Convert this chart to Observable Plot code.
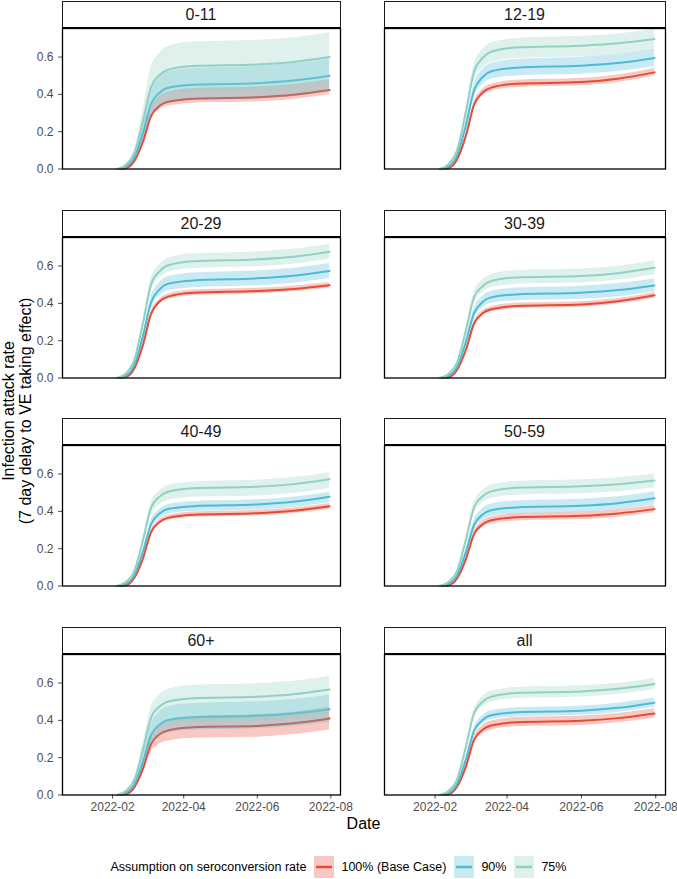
<!DOCTYPE html>
<html><head><meta charset="utf-8">
<script src="https://cdn.jsdelivr.net/npm/d3@7"></script>
<script src="https://cdn.jsdelivr.net/npm/@observablehq/plot@0.6"></script>
<style>
body{margin:0;background:#fff;font-family:"Liberation Sans",Arial,Helvetica,sans-serif;}
#root{position:relative;width:677px;height:879px;overflow:hidden;background:#fff;}
.strip{position:absolute;box-sizing:border-box;border:1px solid #1a1a1a;border-bottom:2px solid #000;text-align:center;font-size:16px;line-height:25px;color:#1a1a1a;background:#fff;}
.panel{position:absolute;}
.ytitle{position:absolute;width:420px;height:34px;left:-193px;top:394px;transform:rotate(-90deg);text-align:center;font-size:16px;line-height:17px;color:#000;}
.xtitle{position:absolute;left:0;width:727px;top:815px;text-align:center;font-size:16px;line-height:18px;color:#000;}
.legend{position:absolute;left:0;width:677px;top:856px;height:22px;display:flex;justify-content:center;align-items:center;font-size:12.5px;color:#000;}
.legend span{white-space:nowrap;}
</style></head><body><div id="root"></div>
<script>
// ---- data ----
const groups = ["0-11","12-19","20-29","30-39","40-49","50-59","60+","all"];
const scenarios = ["100% (Base Case)","90%","75%"];
const colors = ["#E64B35","#4DBBD5","#91D1C2"];
const dates = ["2022-02-05","2022-02-12","2022-02-19","2022-02-26","2022-03-05","2022-03-12","2022-03-19","2022-04-09","2022-06-01","2022-07-01","2022-07-31"];
const xTicks = ["2022-02-01","2022-04-01","2022-06-01","2022-08-01"];
const yTicks = [0,0.2,0.4,0.6];
const xDomain = ["2021-12-21T12:00:00Z","2022-08-09T00:00:00Z"];
const yDomain = [0,0.753];

// 100% (Base Case)
const base_mid = [
 [0,.004,.042,.142,.285,.339,.360,.377,.385,.398,.423],
 [0,.005,.051,.172,.345,.410,.436,.457,.466,.484,.518],
 [0,.005,.051,.172,.345,.410,.436,.457,.466,.477,.497],
 [0,.004,.043,.146,.292,.347,.368,.386,.394,.411,.443],
 [0,.004,.043,.144,.289,.343,.365,.382,.390,.403,.427],
 [0,.004,.041,.139,.278,.331,.352,.368,.376,.389,.412],
 [0,.004,.041,.137,.274,.326,.346,.363,.370,.384,.410],
 [0,.004,.044,.147,.295,.350,.372,.390,.398,.412,.437]];
const base_lo = [
 [0,.004,.040,.133,.266,.317,.337,.353,.360,.373,.398],
 [0,.004,.049,.165,.330,.392,.417,.437,.446,.464,.498],
 [0,.005,.050,.167,.334,.397,.422,.442,.451,.462,.482],
 [0,.004,.042,.140,.280,.334,.354,.371,.379,.396,.428],
 [0,.004,.041,.139,.278,.330,.351,.368,.375,.388,.412],
 [0,.004,.039,.132,.263,.313,.333,.349,.356,.369,.392],
 [0,.003,.034,.115,.229,.273,.290,.304,.310,.324,.350],
 [0,.004,.041,.138,.276,.328,.349,.366,.373,.387,.412]];
const base_hi = [
 [0,.004,.048,.163,.326,.387,.411,.431,.440,.453,.478],
 [0,.005,.053,.180,.360,.428,.454,.476,.486,.504,.538],
 [0,.005,.053,.178,.356,.423,.450,.471,.481,.492,.512],
 [0,.004,.045,.151,.303,.360,.382,.401,.409,.426,.458],
 [0,.004,.045,.150,.300,.356,.379,.397,.405,.418,.442],
 [0,.004,.044,.147,.293,.348,.370,.388,.396,.409,.432],
 [0,.004,.047,.159,.318,.378,.402,.421,.430,.444,.470],
 [0,.004,.047,.157,.313,.372,.396,.415,.423,.437,.462]];
// 90%
const s90_mid = [
 [0,.012,.060,.189,.350,.409,.435,.451,.460,.474,.500],
 [0,.014,.072,.227,.421,.493,.524,.543,.554,.568,.595],
 [0,.013,.069,.219,.406,.475,.505,.523,.534,.548,.573],
 [0,.011,.059,.187,.347,.407,.432,.448,.457,.471,.496],
 [0,.011,.057,.179,.332,.389,.413,.428,.437,.451,.478],
 [0,.011,.056,.176,.327,.383,.406,.421,.430,.444,.470],
 [0,.011,.055,.174,.323,.378,.402,.417,.425,.437,.460],
 [0,.011,.059,.185,.344,.402,.427,.443,.452,.467,.495]];
const s90_lo = [
 [0,.009,.049,.154,.285,.334,.354,.368,.375,.389,.415],
 [0,.013,.066,.209,.387,.453,.481,.499,.509,.523,.550],
 [0,.012,.064,.203,.375,.440,.467,.484,.494,.508,.533],
 [0,.011,.055,.173,.321,.376,.399,.414,.422,.436,.461],
 [0,.010,.053,.167,.309,.362,.385,.399,.407,.421,.448],
 [0,.010,.051,.162,.300,.352,.373,.387,.395,.409,.435],
 [0,.009,.046,.146,.270,.316,.335,.348,.355,.367,.390],
 [0,.011,.056,.175,.325,.380,.404,.418,.427,.442,.470]];
const s90_hi = [
 [0,.014,.072,.226,.418,.490,.520,.539,.550,.564,.590],
 [0,.015,.078,.246,.455,.533,.566,.587,.599,.613,.640],
 [0,.014,.075,.235,.436,.511,.542,.563,.574,.588,.613],
 [0,.012,.064,.202,.374,.438,.465,.482,.492,.506,.531],
 [0,.012,.060,.189,.351,.411,.437,.453,.462,.476,.503],
 [0,.012,.060,.191,.353,.414,.439,.456,.465,.479,.505],
 [0,.013,.065,.205,.380,.445,.473,.490,.500,.512,.535],
 [0,.012,.062,.196,.363,.425,.451,.467,.477,.492,.520]];
// 75%
const s75_mid = [
 [0,.022,.084,.252,.442,.504,.532,.552,.560,.574,.600],
 [0,.026,.099,.297,.522,.595,.628,.651,.661,.674,.697],
 [0,.025,.095,.286,.502,.572,.604,.626,.636,.650,.677],
 [0,.022,.082,.246,.432,.492,.520,.539,.547,.562,.591],
 [0,.021,.080,.239,.420,.479,.505,.524,.532,.546,.572],
 [0,.021,.080,.240,.422,.481,.507,.526,.534,.545,.565],
 [0,.021,.079,.237,.416,.474,.501,.519,.527,.540,.565],
 [0,.022,.083,.250,.438,.500,.527,.547,.555,.569,.595]];
const s75_lo = [
 [0,.017,.063,.189,.332,.378,.399,.414,.420,.434,.460],
 [0,.024,.090,.270,.475,.541,.571,.592,.601,.614,.637],
 [0,.024,.089,.268,.471,.536,.566,.587,.596,.610,.637],
 [0,.020,.077,.230,.403,.459,.485,.502,.510,.525,.554],
 [0,.019,.072,.217,.381,.434,.458,.475,.482,.496,.522],
 [0,.020,.074,.222,.390,.445,.469,.487,.494,.505,.525],
 [0,.016,.060,.179,.314,.357,.377,.391,.397,.410,.435],
 [0,.021,.079,.236,.415,.473,.499,.517,.525,.539,.565]];
const s75_hi = [
 [0,.028,.104,.311,.545,.621,.656,.680,.690,.704,.730],
 [0,.028,.107,.320,.562,.640,.675,.700,.711,.724,.747],
 [0,.027,.101,.304,.534,.608,.642,.666,.676,.690,.717],
 [0,.023,.088,.263,.461,.526,.555,.575,.584,.599,.628],
 [0,.023,.085,.255,.448,.510,.539,.558,.567,.581,.607],
 [0,.023,.085,.256,.450,.512,.541,.560,.569,.580,.600],
 [0,.024,.090,.269,.472,.537,.567,.588,.597,.610,.635],
 [0,.023,.088,.263,.462,.527,.556,.576,.585,.599,.625]];

const MID = [base_mid, s90_mid, s75_mid];
const LO = [base_lo, s90_lo, s75_lo];
const HI = [base_hi, s90_hi, s75_hi];

// ---- layout ----
const root = document.getElementById("root");
const rowTop = [28, 236.7, 445.3, 654];
const plotH = 140.5;
const FONT = '"Liberation Sans", Arial, Helvetica, sans-serif';

groups.forEach((g, gi) => {
  const col = gi % 2, row = Math.floor(gi / 2);
  const left = col === 0, bottom = row === 3;
  const marks = [];
  scenarios.forEach((s, si) => {
    const rows = dates.map((d, i) => ({date: new Date(d), lo: LO[si][gi][i], mid: MID[si][gi][i], hi: HI[si][gi][i]}));
    marks.push(Plot.areaY(rows, {x: "date", y1: "lo", y2: "hi", fill: colors[si], fillOpacity: 0.3, curve: "monotone-x"}));
    marks.push(Plot.line(rows, {x: "date", y: "mid", stroke: colors[si], strokeWidth: 2, curve: "monotone-x"}));
  });
  marks.push(Plot.frame({stroke: "#000", strokeWidth: 1.3}));
  const width = left ? 341 : 337;
  const svg = Plot.plot({
    width,
    height: plotH + (bottom ? 30 : 0),
    marginLeft: left ? 62 : 44,
    marginRight: left ? 1 : 12,
    marginTop: 0,
    marginBottom: bottom ? 30 : 0,
    x: {type: "utc", domain: xDomain.map(d => new Date(d)), axis: bottom ? "bottom" : null,
        ticks: xTicks.map(d => new Date(d)), tickFormat: d3.utcFormat("%Y-%m"), tickSize: 4, tickPadding: 3.5, label: null},
    y: {domain: yDomain, axis: left ? "left" : null, ticks: yTicks, tickFormat: d3.format(".1f"),
        tickSize: 4, tickPadding: 5, label: null},
    style: {overflow: "visible", background: "transparent", fontFamily: FONT, fontSize: "12px", color: "#4d4d4d", maxWidth: "none"},
    marks
  });
  const wrap = document.createElement("div");
  wrap.className = "panel";
  wrap.style.left = (left ? 0 : 340) + "px";
  wrap.style.top = rowTop[row] + "px";
  wrap.appendChild(svg);
  root.appendChild(wrap);

  const strip = document.createElement("div");
  strip.className = "strip";
  strip.style.left = (left ? 61.5 : 383.5) + "px";
  strip.style.width = (left ? 279 : 282) + "px";
  strip.style.top = (rowTop[row] - 27) + "px";
  strip.style.height = "28px";
  strip.textContent = g;
  root.appendChild(strip);
});

// axis titles
const yt = document.createElement("div");
yt.className = "ytitle";
yt.innerHTML = "Infection attack rate<br>(7 day delay to VE taking effect)";
root.appendChild(yt);
const xt = document.createElement("div");
xt.className = "xtitle";
xt.textContent = "Date";
root.appendChild(xt);

// legend
const lg = document.createElement("div");
lg.className = "legend";
const title = document.createElement("span");
title.textContent = "Assumption on seroconversion rate";
title.style.marginRight = "8px";
lg.appendChild(title);
scenarios.forEach((s, si) => {
  const ns = "http://www.w3.org/2000/svg";
  const k = document.createElementNS(ns, "svg");
  k.setAttribute("width", 20); k.setAttribute("height", 22);
  k.style.display = "block";
  const r = document.createElementNS(ns, "rect");
  r.setAttribute("width", 20); r.setAttribute("height", 22);
  r.setAttribute("fill", colors[si]); r.setAttribute("fill-opacity", 0.3);
  k.appendChild(r);
  const l = document.createElementNS(ns, "line");
  l.setAttribute("x1", 2); l.setAttribute("x2", 18); l.setAttribute("y1", 11); l.setAttribute("y2", 11);
  l.setAttribute("stroke", colors[si]); l.setAttribute("stroke-width", 2.5);
  k.appendChild(l);
  lg.appendChild(k);
  const t = document.createElement("span");
  t.textContent = s;
  t.style.marginLeft = "7px";
  t.style.marginRight = si < 2 ? "8px" : "0";
  lg.appendChild(t);
});
root.appendChild(lg);
</script>
</body></html>
